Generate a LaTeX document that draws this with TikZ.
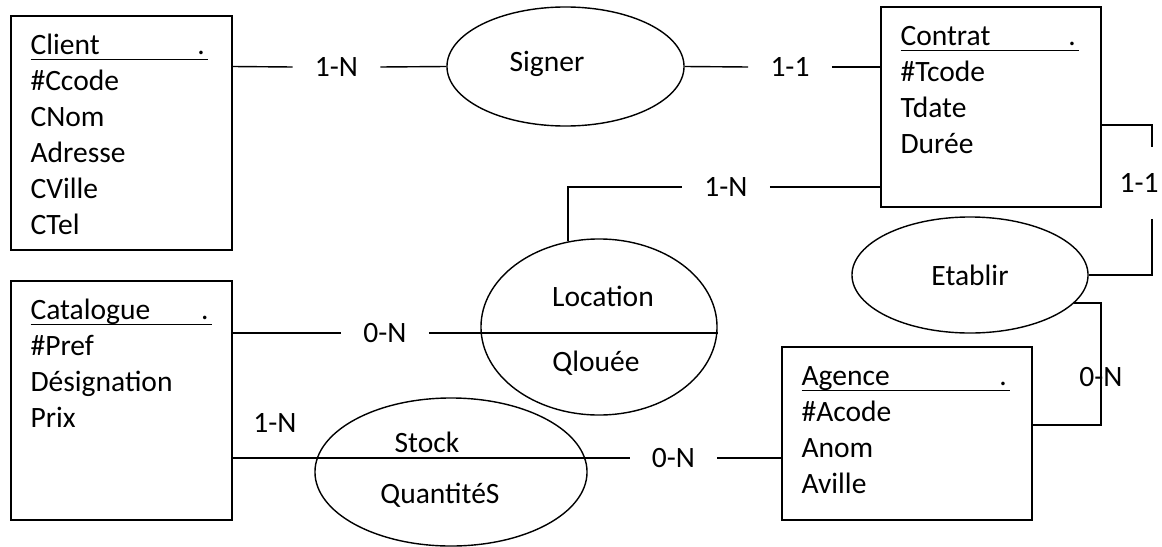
\documentclass[tikz,border=0pt]{standalone}
\usepackage{fontspec}
\setmainfont{Carlito}
\usepackage{tikz}
\usetikzlibrary{shapes,positioning}
\tikzstyle{entity} = [rectangle, draw, line width=1pt, inner sep=0pt]
\tikzstyle{attrs} = [anchor=north west, inner sep=0pt, align=left]
\tikzstyle{assoc} = [ellipse, draw, line width=1pt, inner sep=0pt]
\tikzstyle{card} = [inner xsep=0.55cm, inner ysep=2pt]
\tikzstyle{link} = [line width=1pt]
\newcommand{\enthead}[2]{\rule{0pt}{15pt}\makebox[#1][l]{#2\hfill.\hspace{2pt}}\llap{\rule[-4pt]{#1}{1.1pt}}}

\begin{document}
\begin{tikzpicture}[x=0.025cm, y=-0.025cm, font=\fontsize{21}{25.6}\selectfont]
\useasboundingbox (0,0) rectangle (1162,546);

% entities
\node[entity, minimum width=5.525cm, minimum height=5.85cm] (client) at (121.5,133) {};
\node[attrs] (client-a) at ([shift={(20,18)}]client.north west) {\enthead{125.9pt}{Client}\\ \#Ccode\\ CNom\\ Adresse\\ CVille\\ CTel};
\node[entity, minimum width=5.525cm, minimum height=5.975cm] (catalogue) at (121.5,400.5) {};
\node[attrs] (catalogue-a) at ([shift={(20,18)}]catalogue.north west) {\enthead{128.7pt}{Catalogue}\\ \#Pref\\ Désignation\\ Prix};
\node[entity, minimum width=5.5cm, minimum height=5cm] (contrat) at (991,107) {};
\node[attrs] (contrat-a) at ([shift={(20,18)}]contrat.north west) {\enthead{126.6pt}{Contrat}\\ \#Tcode\\ Tdate\\ Durée};
\node[entity, minimum width=6.25cm, minimum height=4.325cm] (agence) at (907,433.5) {};
\node[attrs] (agence-a) at ([shift={(20,18)}]agence.north west) {\enthead{147.9pt}{Agence}\\ \#Acode\\ Anom\\ Aville};

% associations
\node[assoc, minimum width=5.925cm, minimum height=2.975cm] (signer) at (565.5,66.5) {};
\node (signer-t) at (547,64) {Signer};
\node[assoc, minimum width=5.9cm, minimum height=4.4cm] (location) at (599,327) {};
\node (location-t) at (603,296) {Location};
\node (qlouee) at (596,363) {Qlouée};
\node[assoc, minimum width=5.9cm, minimum height=2.9cm] (etablir) at (970,275) {Etablir};
\node[assoc, minimum width=6.8cm, minimum height=3.7cm] (stock) at (451,472) {};
\node (stock-t) at (427,442) {Stock};
\node (quantites) at (440,495) {QuantitéS};

% cardinalities
\node[card] (c1) at (336.5,67) {1-N};
\node[card] (c5) at (790,67) {1-1};
\node[card] (c4) at (726,187) {1-N};
\node[card, inner xsep=2pt, inner ysep=0.65cm] (c2) at (1139,183) {1-1};
\node (c3) at (1101,377) {0-N};
\node[card] (c6) at (385,333) {0-N};
\node (c7) at (275,423) {1-N};
\node[card] (c8) at (673.5,458) {0-N};
\coordinate (k1) at (1152,125);
\coordinate (k4) at (1101,425);

\draw[link] (client.east |- signer) -- (c1.west);
\draw[link] (c1.east) -- (signer.west);
\draw[link] (signer.east) -- (c5.west);
\draw[link] (c5.east) -- (contrat.west |- c5);
\draw[link] (location.110) |- (c4.west);
\draw[link] (c4.east) -- (contrat.west |- c4);
\draw[link] (contrat.east |- k1) -- (k1) -- (c2.north -| k1);
\draw[link] (c2.south -| k1) |- (etablir.east);
\draw[link] (etablir.-15) -| (k4) -- (agence.east |- k4);
\draw[link] (catalogue.east |- c6) -- (c6.west);
\draw[link] (c6.east) -- (location.west |- c6);
\draw[link] (location.west |- c6) -- (location.east |- c6);
\draw[link] (catalogue.east |- c8) -- (stock.west |- c8);
\draw[link] (stock.west |- c8) -- (stock.east |- c8);
\draw[link] (stock.east |- c8) -- (c8.west);
\draw[link] (c8.east) -- (agence.west |- c8);
\end{tikzpicture}
\end{document}
